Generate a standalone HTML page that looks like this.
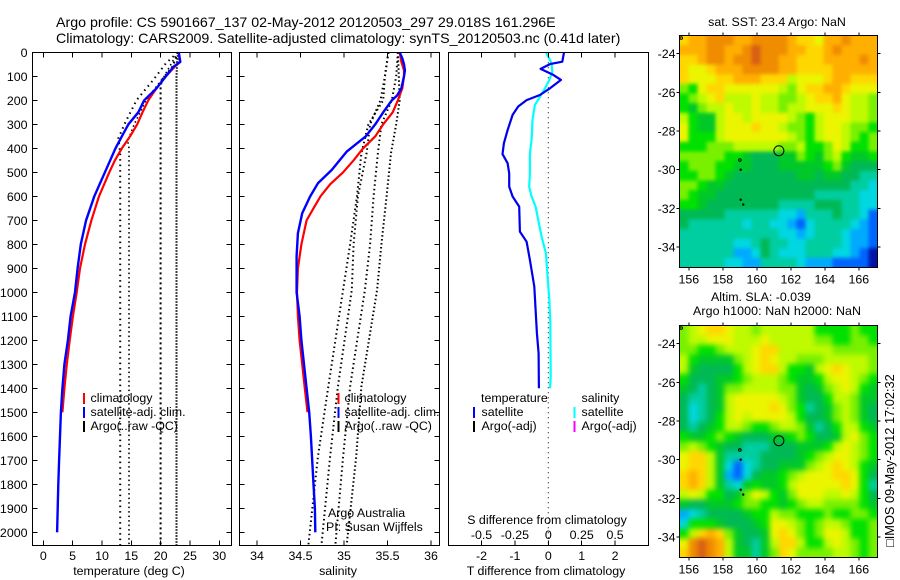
<!DOCTYPE html>
<html>
<head>
<meta charset="utf-8">
<title>Argo profile</title>
<style>
html,body{margin:0;padding:0;background:#fff;}
svg{display:block;}
text{font-family:"Liberation Sans",sans-serif;font-size:12.4px;fill:#000;}
.t{font-size:14.23px;}
.v{font-size:12.8px;}
</style>
</head>
<body>
<svg id="chart" xmlns="http://www.w3.org/2000/svg" width="900" height="580" viewBox="0 0 900 580">
<defs>
<filter id="blur-sst" x="-10%" y="-10%" width="120%" height="120%" color-interpolation-filters="sRGB"><feGaussianBlur stdDeviation="1.8"/></filter>
<filter id="blur-sla" x="-10%" y="-10%" width="120%" height="120%" color-interpolation-filters="sRGB"><feGaussianBlur stdDeviation="2.6"/></filter>
<clipPath id="clip-sst"><rect x="679.5" y="35.5" width="198" height="232"/></clipPath>
<clipPath id="clip-sla"><rect x="679.5" y="325.5" width="198" height="232"/></clipPath>
</defs>
<rect width="900" height="580" fill="#fff"/>
<text class="t" x="56" y="27">Argo profile: CS 5901667_137 02-May-2012 20120503_297 29.018S 161.296E</text>
<text class="t" x="56" y="43">Climatology: CARS2009. Satellite-adjusted climatology: synTS_20120503.nc (0.41d later)</text>
<text x="129" y="575" text-anchor="middle">temperature (deg C)</text>
<text x="338" y="575" text-anchor="middle">salinity</text>
<text x="546" y="575" text-anchor="middle">T difference from climatology</text>
<text x="547" y="524" text-anchor="middle">S difference from climatology</text>
<text x="777" y="26" text-anchor="middle">sat. SST: 23.4 Argo: NaN</text>
<text x="711" y="301">Altim. SLA: -0.039</text>
<text x="693" y="315" textLength="168" lengthAdjust="spacing">Argo h1000: NaN h2000: NaN</text>
<text class="v" transform="translate(894,547) rotate(-90)">□IMOS 09-May-2012 17:02:32</text>
<g id="layer"></g>
</svg>
<script>
const depthTicks=[0,100,200,300,400,500,600,700,800,900,1000,1100,1200,1300,1400,1500,1600,1700,1800,1900,2000];
const tempTicks=[0,5,10,15,20,25,30];
const salTicks=[34,34.5,35,35.5,36];
const salTickLabels=['34','34.5','35','35.5','36'];
const tDiffTicks=[-2,-1,0,1,2];
const sDiffTicks=[-0.5,-0.25,0,0.25,0.5];
const sDiffLabels=['-0.5','-0.25','0','0.25','0.5'];
const lonTicks=[156,158,160,162,164,166];
const latTicks=[-24,-26,-28,-30,-32,-34];

const tempClimDepth=[0,40,60,100,150,200,250,300,350,400,450,500,600,700,800,900,1000,1100,1200,1300,1400,1500];
const tempClimValues=[23.07,23.3,22.4,20.9,19.3,17.9,16.9,16,14.8,13.4,12.2,11.25,9.5,8.2,7.1,6.25,5.7,5.05,4.5,4,3.6,3.25];
const tempSatDepth=[0,40,60,100,150,200,250,300,350,400,500,600,700,800,900,1000,1100,1200,1300,1400,1500,1600,1700,1800,1900,2000];
const tempSatValues=[23.1,23.35,22.2,20.9,19.3,17.2,16.2,14.5,13.4,12.3,10.5,8.7,7.3,6.4,5.85,5.4,4.66,4.2,3.6,3.25,3,2.85,2.7,2.55,2.45,2.35];
const tempArgoDepthA=[0,46,115,199,296,358,420,2060];
const tempArgoValuesA=[22.9,20.9,18.75,15.9,13.9,12.8,13.1,13.1];
const tempArgoDepthB=[0,100,200,300,370,400,2060];
const tempArgoValuesB=[22.9,20.6,17.5,15.5,14.4,14.6,14.6];
const tempArgoDepthC=[0,60,115,150,2060];
const tempArgoValuesC=[23,22,20.2,20,20];
const tempArgoDepthD=[0,40,100,2060];
const tempArgoValuesD=[23,22.8,22.7,22.7];

const salClimDepth=[0,40,75,100,150,200,250,300,350,400,450,500,550,600,650,700,800,900,1000,1100,1200,1300,1400,1500];
const salClimValues=[35.64,35.66,35.69,35.69,35.67,35.62,35.56,35.45,35.36,35.22,35.11,34.99,34.84,34.73,34.65,34.57,34.51,34.47,34.46,34.47,34.49,34.52,34.55,34.58];
const salSatDepth=[0,25,50,75,100,150,180,200,250,300,350,414,490,546,601,671,754,850,1000,1100,1200,1300,1400,1500,1600,1700,1800,1900,2000];
const salSatValues=[35.64,35.67,35.69,35.7,35.69,35.66,35.61,35.55,35.45,35.36,35.25,35.03,34.86,34.7,34.61,34.52,34.47,34.455,34.455,34.49,34.51,34.54,34.57,34.6,34.62,34.635,34.65,34.665,34.67];
const salArgoDepth=[0,100,200,300,420,600,800,990,1393,1685,2056];
const salArgoValuesA=[35.51,35.47,35.45,35.28,35.2,35.15,35.07,34.99,34.82,34.7,34.59];
const salArgoValuesB=[35.51,35.47,35.42,35.3,35.26,35.16,35.11,35.09,34.93,34.84,34.74];
const salArgoValuesC=[35.62,35.6,35.55,35.43,35.39,35.34,35.3,35.24,35.07,34.99,34.9];
const salArgoValuesD=[35.62,35.63,35.64,35.6,35.54,35.49,35.43,35.38,35.2,35.14,35.03];

const tDiffDepth=[0,39,49,69,94,115,150,178,199,226,261,324,379,424,462,504,560,601,643,747,789,865,976,1073,1170,1254,1400];
const tDiffValues=[0.47,0.42,0.05,-0.23,0.15,0.38,0.05,-0.25,-0.65,-0.9,-1.07,-1.22,-1.33,-1.37,-1.22,-1.17,-1.17,-1.07,-0.87,-0.85,-0.65,-0.55,-0.42,-0.38,-0.34,-0.29,-0.28];
const sDiffDepth=[0,46,80,115,150,185,219,282,365,421,504,560,601,643,699,768,837,976,1032,1129,1351,1400];
const sDiffValues=[-0.018,0.025,0.03,0.008,-0.025,-0.062,-0.1,-0.118,-0.125,-0.138,-0.138,-0.143,-0.125,-0.095,-0.075,-0.05,-0.018,0,0.008,0.015,0.018,0.013];

const sstRows=[
[11,12,12,13,13,13,12,12,13,13,13,13,12,11,11,10,12,12,13,12,12,12],
[12,12,12,13,13,12,12,13,14,13,13,13,12,12,11,11,12,13,12,12,12,12],
[11,11,12,13,13,12,13,13,14,13,13,12,12,11,11,11,12,12,12,12,13,12],
[11,10,10,11,12,12,12,13,13,13,13,12,12,11,11,11,11,12,12,12,12,12],
[11,10,10,10,11,11,12,12,12,11,11,11,9,10,10,10,11,12,12,11,11,11],
[8,7,10,11,11,10,10,10,10,10,10,9,8,10,11,11,12,12,11,10,10,10],
[7,8,9,10,11,9,9,9,10,9,9,8,8,9,10,11,11,12,10,9,9,8],
[7,6,8,9,9,10,9,9,10,9,9,8,9,9,10,10,10,11,10,9,9,8],
[9,7,6,6,9,10,10,9,10,10,10,10,9,8,7,9,10,10,10,9,9,8],
[10,7,6,6,9,10,10,10,11,10,10,9,8,8,7,9,10,10,9,8,8,7],
[10,7,7,7,9,10,10,10,10,10,10,10,9,8,7,9,10,10,9,8,7,8],
[7,7,7,8,8,8,9,9,9,9,9,8,8,9,7,7,8,10,9,7,7,8],
[8,8,8,8,8,7,7,6,5,5,5,6,6,8,7,6,8,9,7,6,6,7],
[7,8,8,8,7,7,6,6,5,5,5,6,6,6,6,6,7,8,6,5,5,5],
[7,7,8,8,7,6,5,5,5,5,5,5,5,6,6,5,6,6,5,5,4,4],
[8,8,7,6,6,5,5,5,5,5,5,5,5,5,5,5,5,5,5,4,4,3],
[8,7,6,6,5,5,5,5,5,5,5,5,5,5,5,4,4,4,4,4,3,3],
[7,7,6,5,5,5,5,5,5,5,5,4,4,4,4,5,5,5,4,4,3,3],
[5,5,5,5,5,4,4,4,4,4,4,3,3,2,4,4,4,5,4,4,3,1],
[5,4,4,4,4,4,4,3,4,4,3,3,2,1,3,4,4,4,4,3,2,1],
[4,4,4,4,4,4,4,4,4,4,4,3,3,2,3,4,4,4,3,2,2,1],
[4,4,4,4,4,4,3,3,4,5,4,4,3,3,4,4,4,4,3,2,2,1],
[4,4,4,4,4,4,2,2,3,5,4,3,3,3,4,4,4,3,3,2,1,0],
[4,4,4,4,4,3,3,2,2,4,4,4,4,3,2,2,2,1,1,1,1,0]
];
const slaRows=[
[8,9,10,11,11,10,9,9,8,9,9,9,9,9,9,7,7,7,7,8,7,7],
[8,9,9,10,10,10,9,9,9,10,9,9,9,9,9,8,8,7,7,8,8,7],
[8,8,7,7,8,9,9,9,10,11,11,9,9,9,9,9,9,8,8,8,8,8],
[9,7,6,6,6,6,8,9,10,11,10,9,9,8,8,8,9,9,9,9,9,8],
[9,6,5,5,5,5,7,9,10,11,11,9,7,7,6,9,10,11,10,9,9,8],
[7,5,5,5,6,6,7,8,9,9,9,8,7,6,6,7,9,10,10,9,8,7],
[6,5,4,5,6,8,8,9,9,9,9,8,8,6,5,6,8,9,10,9,7,6],
[5,4,4,5,6,9,10,10,10,10,10,9,8,6,5,5,7,9,9,8,6,6],
[5,3,4,5,6,9,10,10,10,10,11,10,8,7,4,5,6,8,9,8,6,5],
[5,3,4,5,7,9,10,9,10,10,10,10,9,7,5,5,6,8,9,8,6,5],
[5,4,5,6,7,9,9,8,7,7,8,9,9,8,6,4,5,7,9,9,7,6],
[7,6,6,7,8,7,6,5,5,5,6,6,7,8,7,5,5,6,9,10,8,7],
[8,9,8,7,6,5,5,4,4,4,5,5,5,6,6,6,7,9,10,9,8,7],
[10,11,11,9,6,4,4,4,4,5,5,5,5,6,7,8,9,10,10,9,8,7],
[10,11,11,9,6,3,1,3,4,5,5,6,6,6,8,9,10,11,10,9,7,6],
[11,12,11,9,6,2,1,3,5,6,6,7,8,9,10,10,10,11,11,10,7,5],
[11,12,11,9,6,4,3,6,7,6,6,7,9,10,10,10,10,10,11,10,7,4],
[9,10,9,7,7,5,6,8,10,9,7,6,8,10,10,10,9,9,10,9,7,5],
[6,5,5,6,6,6,7,8,8,7,7,6,7,8,9,9,8,8,8,8,7,6],
[2,3,4,5,5,5,5,6,7,7,9,8,8,7,7,7,8,7,7,8,8,7],
[3,7,7,7,6,5,5,5,6,7,10,10,9,8,7,8,9,9,8,7,7,8],
[7,9,11,12,11,8,6,5,5,6,10,11,10,8,7,8,10,10,9,7,7,8],
[10,13,14,13,12,9,6,5,4,6,9,11,11,9,7,7,9,10,9,8,7,8],
[11,13,14,13,12,9,6,6,4,6,8,11,10,8,8,8,8,9,9,8,7,8]
];
const markerLons=[155.55,159,159.05,159.05,159.2];
const markerLats=[-23.2,-29.5,-30,-31.55,-31.8];
const profileLon=[161.296];
const profileLat=[-29.018];

const NS='http://www.w3.org/2000/svg';
const layer=document.getElementById('layer');
function mk(tag,attrs,parent,txt){
  const el=document.createElementNS(NS,tag);
  for(const k in attrs)el.setAttribute(k,attrs[k]);
  if(txt!==undefined)el.textContent=txt;
  (parent||layer).appendChild(el);
  return el;
}
function label(name,x,y,txt,anchor,parent){
  const el=mk('text',{x:x,y:y,'text-anchor':anchor||'start'},parent,txt);
  
  
  return el;
}
function mark(name,tag,attrs,parent){
  const el=mk(tag,attrs,parent);
  
  
  return el;
}
const yDepth=d=>52.3+d*0.24;
const xTemp=v=>43.3+v*5.867;
const xSal=v=>257+(v-34)*87;
const xTD=v=>548.3+v*33.4;
const xSD=v=>548.3+v*133.6;
function curve(name,xs,depths,values,stroke,width,dash){
  const pts=depths.map((d,i)=>xs(values[i]).toFixed(1)+','+yDepth(d).toFixed(1)).join(' ');
  const a={points:pts,fill:'none',stroke:stroke,'stroke-width':width,'stroke-linejoin':'round'};
  if(dash)a['stroke-dasharray']=dash;
  return mark(name,'polyline',a);
}
function frame(name,x0,x1){
  const pTop=52.3,pBot=545.7;
  mark(name,'rect',{x:x0,y:pTop,width:x1-x0,height:pBot-pTop,fill:'none',stroke:'#000','stroke-width':1,'shape-rendering':'crispEdges'});
}
function tick(name,x1,y1,x2,y2){
  mark(name,'line',{x1:x1,y1:y1,x2:x2,y2:y2,stroke:'#000','stroke-width':1,'shape-rendering':'crispEdges'});
}
function xTicks(prefix,ticks,scale,labels,labelY){
  ticks.forEach((t,i)=>{
    const x=scale(t);
    tick(prefix+'-tick-top',x,52.3,x,57.3);
    tick(prefix+'-tick-bottom',x,540.7,x,545.7);
    label(prefix+'-tick-label',x,labelY,labels[i],'middle');
  });
}
const x0s=[32.5,239.5,448.5], x1s=[231.5,439.5,648.5];

/* temperature panel data */
curve('argo-temp-profile-a',xTemp,tempArgoDepthA,tempArgoValuesA,'#000',2,'1.5 4');
curve('argo-temp-profile-b',xTemp,tempArgoDepthB,tempArgoValuesB,'#000',1.6,'1.5 3');
curve('argo-temp-profile-c',xTemp,tempArgoDepthC,tempArgoValuesC,'#000',2,'2 3');
curve('argo-temp-profile-d',xTemp,tempArgoDepthD,tempArgoValuesD,'#000',2,'1.5 1.5');
curve('climatology-temp-line',xTemp,tempClimDepth,tempClimValues,'#f00',2.2);
curve('satellite-temp-line',xTemp,tempSatDepth,tempSatValues,'#00f',2.4);

/* salinity panel data */
curve('argo-sal-profile-a',xSal,salArgoDepth,salArgoValuesA,'#000',2,'1.5 3');
curve('argo-sal-profile-b',xSal,salArgoDepth,salArgoValuesB,'#000',2,'1.5 3');
curve('argo-sal-profile-c',xSal,salArgoDepth,salArgoValuesC,'#000',2,'1.5 3');
curve('argo-sal-profile-d',xSal,salArgoDepth,salArgoValuesD,'#000',2,'1.5 2.5');
curve('climatology-sal-line',xSal,salClimDepth,salClimValues,'#f00',2.2);
curve('satellite-sal-line',xSal,salSatDepth,salSatValues,'#00f',2.4);

/* difference panel data */
mark('zero-difference-line','line',{x1:xTD(0),y1:52.3,x2:xTD(0),y2:545.7,stroke:'#000','stroke-width':1,'stroke-dasharray':'1 4'});
curve('salinity-difference-line',xSD,sDiffDepth,sDiffValues,'#0ff',2.2);
curve('temperature-difference-line',xTD,tDiffDepth,tDiffValues,'#00e',2.2);

/* frames, ticks */
frame('temperature-panel-frame',x0s[0],x1s[0]);
frame('salinity-panel-frame',x0s[1],x1s[1]);
frame('difference-panel-frame',x0s[2],x1s[2]);
depthTicks.forEach(d=>{
  const y=yDepth(d);
  label('depth-tick-label',27.5,y+4.5,String(d),'end');
  tick('depth-tick',x0s[0],y,x0s[0]+5,y);
  tick('depth-tick',x1s[0]-5,y,x1s[0],y);
  tick('depth-tick',x0s[1],y,x0s[1]+5,y);
  tick('depth-tick',x1s[1]-5,y,x1s[1],y);
});
xTicks('temperature',tempTicks,xTemp,tempTicks.map(String),560);
xTicks('salinity',salTicks,xSal,salTickLabels,560);
xTicks('t-difference',tDiffTicks,xTD,tDiffTicks.map(String),560);
sDiffTicks.forEach((t,i)=>label('s-difference-tick-label',xSD(t),539,sDiffLabels[i],'middle'));

/* legends */
function legendRow(name,barX,textX,y,color,txt){
  mark(name+'-swatch','rect',{x:barX,y:y-9,width:2,height:11,fill:color,'shape-rendering':'crispEdges'});
  label(name+'-label',textX,y,txt);
}
legendRow('legend-temp-climatology',83,90.5,402,'#f00','climatology');
legendRow('legend-temp-satellite',83,90.5,416,'#00f','satellite-adj. clim.');
legendRow('legend-temp-argo',83,90.5,430,'#000','Argo(..raw -QC)');
legendRow('legend-sal-climatology',337.5,344.5,402,'#f00','climatology');
legendRow('legend-sal-satellite',337.5,344.5,416,'#00f','satellite-adj. clim.');
legendRow('legend-sal-argo',337.5,344.5,430,'#000','Argo(..raw -QC)');
label('legend-temperature-heading',481,402,'temperature');
legendRow('legend-diff-temp-satellite',473,481.5,416,'#00f','satellite');
legendRow('legend-diff-temp-argo',473,481.5,430,'#000','Argo(-adj)');
label('legend-salinity-heading',581.5,402,'salinity');
legendRow('legend-diff-sal-satellite',573.5,581.5,416,'#0ff','satellite');
legendRow('legend-diff-sal-argo',573.5,581.5,430,'#f0f','Argo(-adj)');
label('argo-australia-credit',328,517,'Argo Australia');
label('pi-credit',326,531,'PI: Susan Wijffels');

/* maps */
function levelColor(v){
  const c=[[0,20,170],[0,100,255],[0,170,255],[0,215,225],[0,205,160],[0,185,85],[0,200,40],[0,225,0],[120,240,0],[190,250,0],[235,245,0],[255,215,0],[255,175,0],[240,140,0],[215,95,20]];
  const i=Math.max(0,Math.min(c.length-1,Math.round(v)));
  return 'rgb('+c[i].join(',')+')';
}
function drawMap(prefix,rows,top){
  const left=679.5,lonMin=155.45,latMax=-23.07,pad=14;
  const xLon=v=>left+(v-lonMin)*17;
  const yLat=v=>top+(latMax-v)*19.37;
  const nR=rows.length,nC=rows[0].length;
  const dLon=198/17/nC,dLat=232/19.37/nR;
  const clip=mark(prefix+'-map-clip','g',{'clip-path':'url(#clip-'+prefix+')'});
  const g=mark(prefix+'-map-grid','g',{filter:'url(#blur-'+prefix+')'},clip);
  rows.forEach((row,r)=>row.forEach((v,c)=>{
    let x=xLon(lonMin+c*dLon),y=yLat(latMax-r*dLat),w=dLon*17+0.6,h=dLat*19.37+0.6;
    if(c===0){x-=pad;w+=pad;}
    if(c===nC-1){w+=pad;}
    if(r===0){y-=pad;h+=pad;}
    if(r===nR-1){h+=pad;}
    mark(prefix+'-cell','rect',{x:x.toFixed(2),y:y.toFixed(2),width:w.toFixed(2),height:h.toFixed(2),fill:levelColor(v)},g);
  }));
  mark(prefix+'-map-frame','rect',{x:left,y:top,width:198,height:232,fill:'none',stroke:'#000','stroke-width':1,'shape-rendering':'crispEdges'});
  lonTicks.forEach(t=>{
    const x=xLon(t);
    tick(prefix+'-lon-tick',x,top-3,x,top);
    tick(prefix+'-lon-tick',x,top+232,x,top+235);
    label(prefix+'-lon-label',x,top+248,String(t),'middle');
  });
  latTicks.forEach(t=>{
    const y=yLat(t);
    tick(prefix+'-lat-tick',left-3,y,left,y);
    tick(prefix+'-lat-tick',left+198,y,left+201,y);
    label(prefix+'-lat-label',left-4,y+4.5,String(t),'end');
  });
  markerLons.forEach((lon,i)=>{
    mark(prefix+'-argo-marker','circle',{cx:xLon(lon),cy:yLat(markerLats[i]),r:i<2?1.3:0.7,fill:i<2?'none':'#000',stroke:'#000','stroke-width':1});
  });
  mark(prefix+'-profile-location','circle',{cx:xLon(profileLon[0]),cy:yLat(profileLat[0]),r:5,fill:'none',stroke:'#000','stroke-width':1});
}
drawMap('sst',sstRows,35.5);
drawMap('sla',slaRows,325.5);
</script>
</body>
</html>
